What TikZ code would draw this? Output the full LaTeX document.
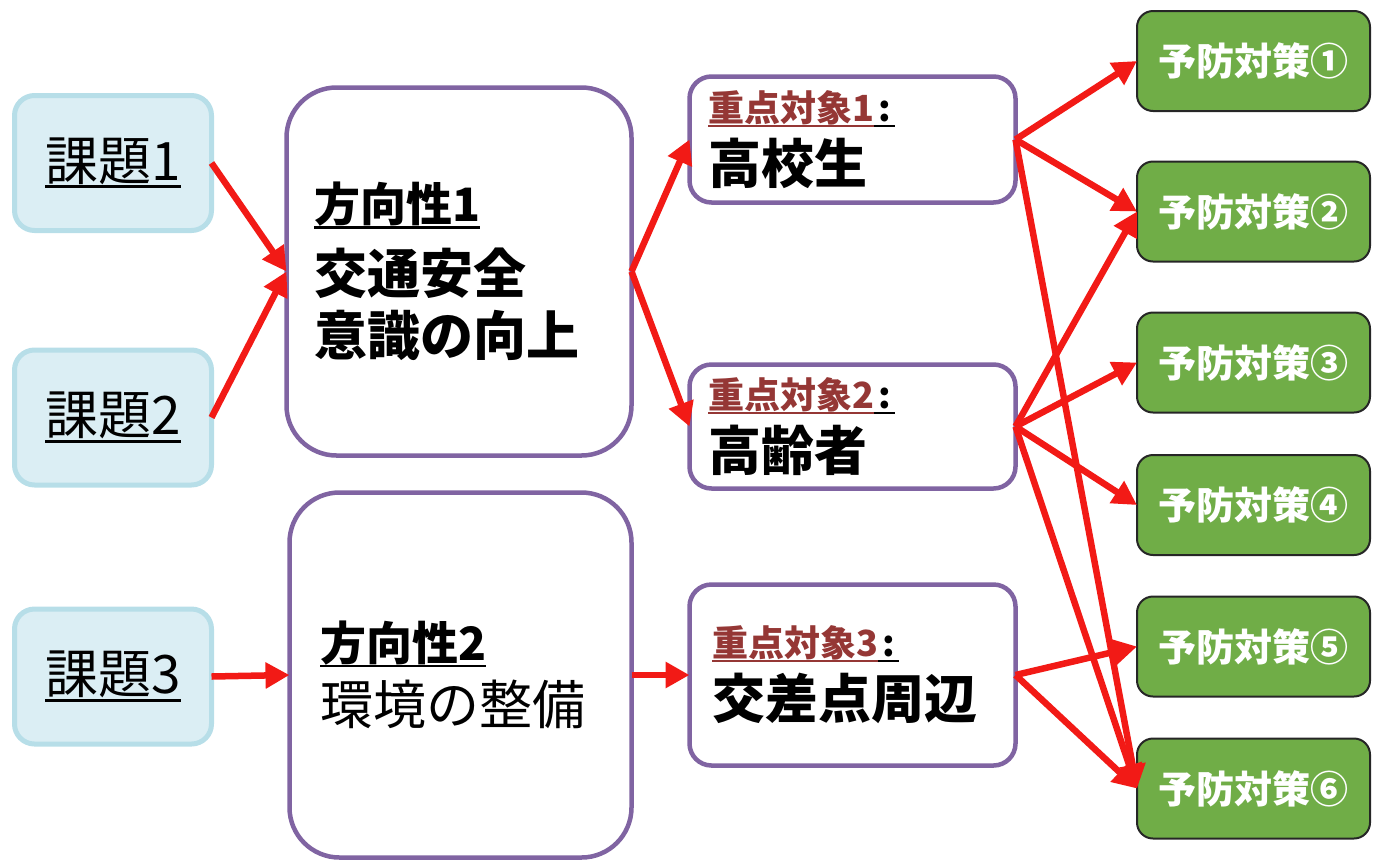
\documentclass[tikz,border=0pt]{standalone}
\usepackage{fontspec}
\setmainfont{Noto Sans CJK JP}
\usetikzlibrary{arrows.meta}
\definecolor{arrred}{HTML}{F21A16}
\definecolor{kfill}{HTML}{DBEEF4}
\definecolor{kborder}{HTML}{B7DEE8}
\definecolor{purp}{HTML}{8064A2}
\definecolor{grn}{HTML}{70AD47}
\definecolor{dred}{HTML}{953735}
\newcommand{\myul}[1]{\setbox0\hbox{#1}\rlap{\vrule height -0.09em depth 0.15em width \wd0}\box0}
\tikzset{
  kbox/.style={rectangle, rounded corners=20pt, draw=kborder, fill=kfill, line width=5pt,
    minimum width=197pt, minimum height=135pt, inner sep=0pt, outer sep=0pt,
    font=\fontsize{53}{60}\selectfont},
  dbox/.style={rectangle, rounded corners=50pt, draw=purp, fill=white, line width=4.5pt,
    inner sep=0pt, outer sep=0pt, align=left},
  jbox/.style={rectangle, rounded corners=22pt, draw=purp, fill=white, line width=4.5pt,
    inner sep=0pt, outer sep=0pt, align=left, font=\bfseries},
  ybox/.style={rectangle, rounded corners=16pt, draw=black!85, fill=grn, line width=2pt,
    minimum width=233pt, minimum height=100pt, inner sep=0pt, outer sep=0pt,
    text=white, font=\bfseries\fontsize{38}{46}\selectfont},
  arr/.style={draw=arrred, line width=6.5pt, -{Triangle[length=24pt,width=25pt]}}
}
\begin{document}
\begin{tikzpicture}[x=1pt,y=-1pt]
\useasboundingbox (0,0) rectangle (1383,863);
% issues
\node[kbox] (k1) at (113,163) {\myul{課題1}};
\node[kbox] (k2) at (113,417.5) {\myul{課題2}};
\node[kbox] (k3) at (113,676.5) {\myul{課題3}};
% directions
\node[dbox, font=\bfseries, minimum width=345pt, minimum height=368pt, text width=290pt] (d1) at (459,271.5)
  {{\fontsize{46}{63}\selectfont\myul{方向性1}}\\[9pt]\fontsize{53}{63}\selectfont 交通安全\\[10pt]意識の向上};
\node[dbox, minimum width=342pt, minimum height=365pt, text width=281pt] (d2) at (460.5,675)
  {{\bfseries\fontsize{46}{65}\selectfont\myul{方向性2}}\\[12pt]\fontsize{53}{65}\selectfont 環境の整備};
% targets
\node[jbox, minimum width=326pt, minimum height=126pt, text width=289pt] (j1) at (852.5,139.5)
  {{\fontsize{36}{62}\selectfont\color{dred}\myul{重点対象1}\color{black}\myul{\hspace{0.12em}:\hspace{0.12em}}}\\[10pt]\fontsize{53}{62}\selectfont 高校生};
\node[jbox, minimum width=326pt, minimum height=124pt, text width=289pt] (j2) at (852.5,426.5)
  {{\fontsize{36}{62}\selectfont\color{dred}\myul{重点対象2}\color{black}\myul{\hspace{0.12em}:\hspace{0.12em}}}\\[10pt]\fontsize{53}{62}\selectfont 高齢者};
\node[jbox, minimum width=326pt, minimum height=181pt, text width=281pt] (j3) at (852.5,675)
  {{\fontsize{36}{65}\selectfont\color{dred}\myul{重点対象3}\color{black}\myul{\hspace{0.12em}:\hspace{0.12em}}}\\[10pt]\fontsize{53}{65}\selectfont 交差点周辺};
% measures
\node[ybox] (y1) at (1253.5,61) {予防対策①};
\node[ybox] (y2) at (1253.5,211.5) {予防対策②};
\node[ybox] (y3) at (1253.5,362.5) {予防対策③};
\node[ybox] (y4) at (1253.5,505) {予防対策④};
\node[ybox] (y5) at (1253.5,646.5) {予防対策⑤};
\node[ybox] (y6) at (1253.5,788.5) {予防対策⑥};
% arrows
\draw[arr] (k1.east) -- (d1.west);
\draw[arr] (k2.east) -- (d1.west);
\draw[arr] (k3.east) -- (d2.west);
\draw[arr] (d1.east) -- (j1.west);
\draw[arr] (d1.east) -- (j2.west);
\draw[arr] (d2.east) -- (j3.west);
\draw[arr] (j1.east) -- (y1.west);
\draw[arr] (j1.east) -- (y2.west);
\draw[arr] (j1.east) -- (y6.west);
\draw[arr] (j2.east) -- (y2.west);
\draw[arr] (j2.east) -- (y3.west);
\draw[arr] (j2.east) -- (y4.west);
\draw[arr] (j2.east) -- (y6.west);
\draw[arr] (j3.east) -- (y5.west);
\draw[arr] (j3.east) -- (y6.west);
\end{tikzpicture}
\end{document}
